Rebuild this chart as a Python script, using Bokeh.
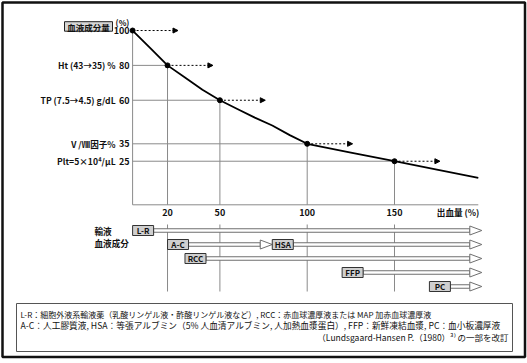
from bokeh.plotting import figure
from bokeh.models import Range1d, ColumnDataSource, Arrow, NormalHead
from bokeh.core.properties import value
from bokeh.embed import file_html
from bokeh.resources import INLINE

# ---------------- data ----------------
loss = [0, 10, 20, 30, 40, 50, 60, 70, 80, 90, 100, 125, 150, 175, 198]
blood = [100, 90, 80, 73, 66, 60, 55, 50, 45.5, 40, 35, 30, 25, 20, 15.4]
mark_x = [0, 20, 50, 100, 150]
mark_y = [100, 80, 60, 35, 25]
ytick_labels = ["100", "80", "60", "35", "25"]
mark_labels = ["", "Ht (43→35) %", "TP (7.5→4.5) g/dL", "Ⅴ/Ⅷ因子%", "Plt=5×10⁴/μL"]
xticks = [20, 50, 100, 150]
xtick_labels = ["20", "50", "100", "150"]
products = ["L-R", "A-C", "HSA", "RCC", "FFP", "PC"]
prod_start = [0, 20, 80, 30, 120, 170]
prod_end = [200, 80, 200, 200, 200, 200]
prod_row = [0, 1, 1, 2, 3, 4]
dash_len = 26
x_max = 198
legend_lines = [
    "L-R：細胞外液系輸液薬（乳酸リンゲル液・酢酸リンゲル液など）, RCC：赤血球濃厚液または MAP 加赤血球濃厚液",
    "A-C：人工膠質液, HSA：等張アルブミン（5% 人血清アルブミン, 人加熱血漿蛋白）, FFP：新鮮凍結血漿, PC：血小板濃厚液",
    "（Lundsgaard-Hansen P.（1980）³⁾ の一部を改訂",
]

# ---------------- layout helpers (page pixel -> data) ----------------
W, H = 527, 363
SX, SY = 1.746, 1.7427          # px per unit
OX, OY = 132.1, 204.3           # page px of data origin
def X(px): return (px - OX) / SX
def Y(py): return (OY - py) / SY
def dx(px): return px / SX
def dy(py): return py / SY

FONT = value("Noto Sans CJK JP")
GRID = "#8a8a8a"
TXT = "#111111"
B = "bold"

p = figure(width=W, height=H, output_backend="svg", toolbar_location=None,
           x_range=Range1d(X(0), X(W)), y_range=Range1d(Y(H), Y(0)),
           min_border=0, background_fill_color="white", border_fill_color="white")
p.axis.visible = False
p.grid.visible = False
p.outline_line_color = None

# outer frame
p.quad(left=[X(2)], right=[X(524.5)], bottom=[Y(356.5)], top=[Y(2)],
       fill_color=None, line_color="#111111", line_width=2.5)

# upper panel lines
p.segment(x0=[0], y0=[0], x1=[0], y1=[100], line_color=GRID, line_width=1)
p.segment(x0=[0], y0=[0], x1=[x_max], y1=[0], line_color=GRID, line_width=1)
p.segment(x0=[0] * 4, y0=mark_y[1:], x1=mark_x[1:], y1=mark_y[1:], line_color=GRID, line_width=1)
p.segment(x0=mark_x[1:], y0=[0] * 4, x1=mark_x[1:], y1=mark_y[1:], line_color=GRID, line_width=1)

# curve and points
p.line(loss, blood, line_color="black", line_width=1.8)
p.scatter(mark_x, mark_y, size=5, color="black")

# dashed arrows
asrc = ColumnDataSource(dict(x0=mark_x, y0=mark_y,
                             x1=[v + dash_len for v in mark_x], y1=mark_y))
p.add_layout(Arrow(end=NormalHead(size=5, fill_color="black", line_color="black"),
                   x_start="x0", y_start="y0", x_end="x1", y_end="y1",
                   source=asrc, line_dash="2 2", line_width=1, line_color="black"))

# y labels
p.text(x=[0] * 5, y=mark_y, text=ytick_labels, x_offset=-3, text_align="right",
       text_baseline="middle", text_font=FONT, text_font_size="9px", text_font_style=B, text_color=TXT)
p.text(x=[0] * 5, y=mark_y, text=mark_labels, x_offset=-17, text_align="right",
       text_baseline="middle", text_font=FONT, text_font_size="8.6px", text_font_style=B, text_color=TXT)
p.text(x=[X(122)], y=[Y(21.5)], text=["(%)"], text_align="center", text_baseline="middle",
       text_font=FONT, text_font_size="8px", text_font_style=B, text_color=TXT)
p.quad(left=[X(64)], right=[X(112)], bottom=[Y(30.7)], top=[Y(21.2)],
       fill_color="#d6d6d6", line_color="#222", line_width=1)
p.text(x=[X(88)], y=[Y(26)], text=["血液成分量"], text_align="center", text_baseline="middle",
       text_font=FONT, text_font_size="8.5px", text_font_style=B, text_color=TXT)

# x labels
p.text(x=xticks, y=[Y(211.5)] * 4, text=xtick_labels, text_align="center", text_baseline="middle",
       text_font=FONT, text_font_size="9px", text_font_style=B, text_color=TXT)
p.text(x=[x_max + dx(1)], y=[Y(211.5)], text=["出血量 (%)"], text_align="right", text_baseline="middle",
       text_font=FONT, text_font_size="8.6px", text_font_style=B, text_color=TXT)

# lower panel
row_y = [Y(230 + 14 * r) for r in prod_row]
p.text(x=[X(94), X(94)], y=[Y(230), Y(242)], text=["輸液", "血液成分"], text_align="left",
       text_baseline="middle", text_font=FONT, text_font_size="8.6px", text_font_style=B, text_color=TXT)
p.segment(x0=xticks, y0=[Y(224)] * 4, x1=xticks, y1=[Y(291)] * 4, line_color=GRID, line_width=1)

box_w, box_h, head_l, head_h, bar_h = dx(21), dy(10), dx(12), dy(9), dy(3.5)
box_r = [s + box_w for s in prod_start]
p.quad(left=box_r, right=[e - head_l for e in prod_end],
       bottom=[y - bar_h / 2 for y in row_y], top=[y + bar_h / 2 for y in row_y],
       fill_color="white", line_color="#6f6f6f", line_width=1)
tri_x = [[e - head_l, e, e - head_l] for e in prod_end]
tri_y = [[y + head_h / 2, y, y - head_h / 2] for y in row_y]
p.patches(tri_x, tri_y, fill_color="white", line_color="#6f6f6f", line_width=1)
p.quad(left=prod_start, right=box_r, bottom=[y - box_h / 2 for y in row_y],
       top=[y + box_h / 2 for y in row_y], fill_color="#cfcfcf", line_color="#333", line_width=1)
p.text(x=[s + box_w / 2 for s in prod_start], y=row_y, text=products, text_align="center",
       text_baseline="middle", text_font=FONT, text_font_size="8px", text_font_style=B, text_color=TXT)

# legend box
p.quad(left=[X(16)], right=[X(512)], bottom=[Y(351)], top=[Y(303)],
       fill_color=None, line_color="#555", line_width=1)
p.text(x=[X(20)], y=[Y(314)], text=legend_lines[:1], text_align="left",
       text_baseline="middle", text_font=FONT, text_font_size="8px", text_color=TXT)
p.text(x=[X(20)], y=[Y(325)], text=legend_lines[1:2], text_align="left",
       text_baseline="middle", text_font=FONT, text_font_size="8.7px", text_color=TXT)
p.text(x=[X(508)], y=[Y(336)], text=legend_lines[2:], text_align="right",
       text_baseline="middle", text_font=FONT, text_font_size="8.5px", text_color=TXT)

open("out.html", "w").write(file_html(p, INLINE))
